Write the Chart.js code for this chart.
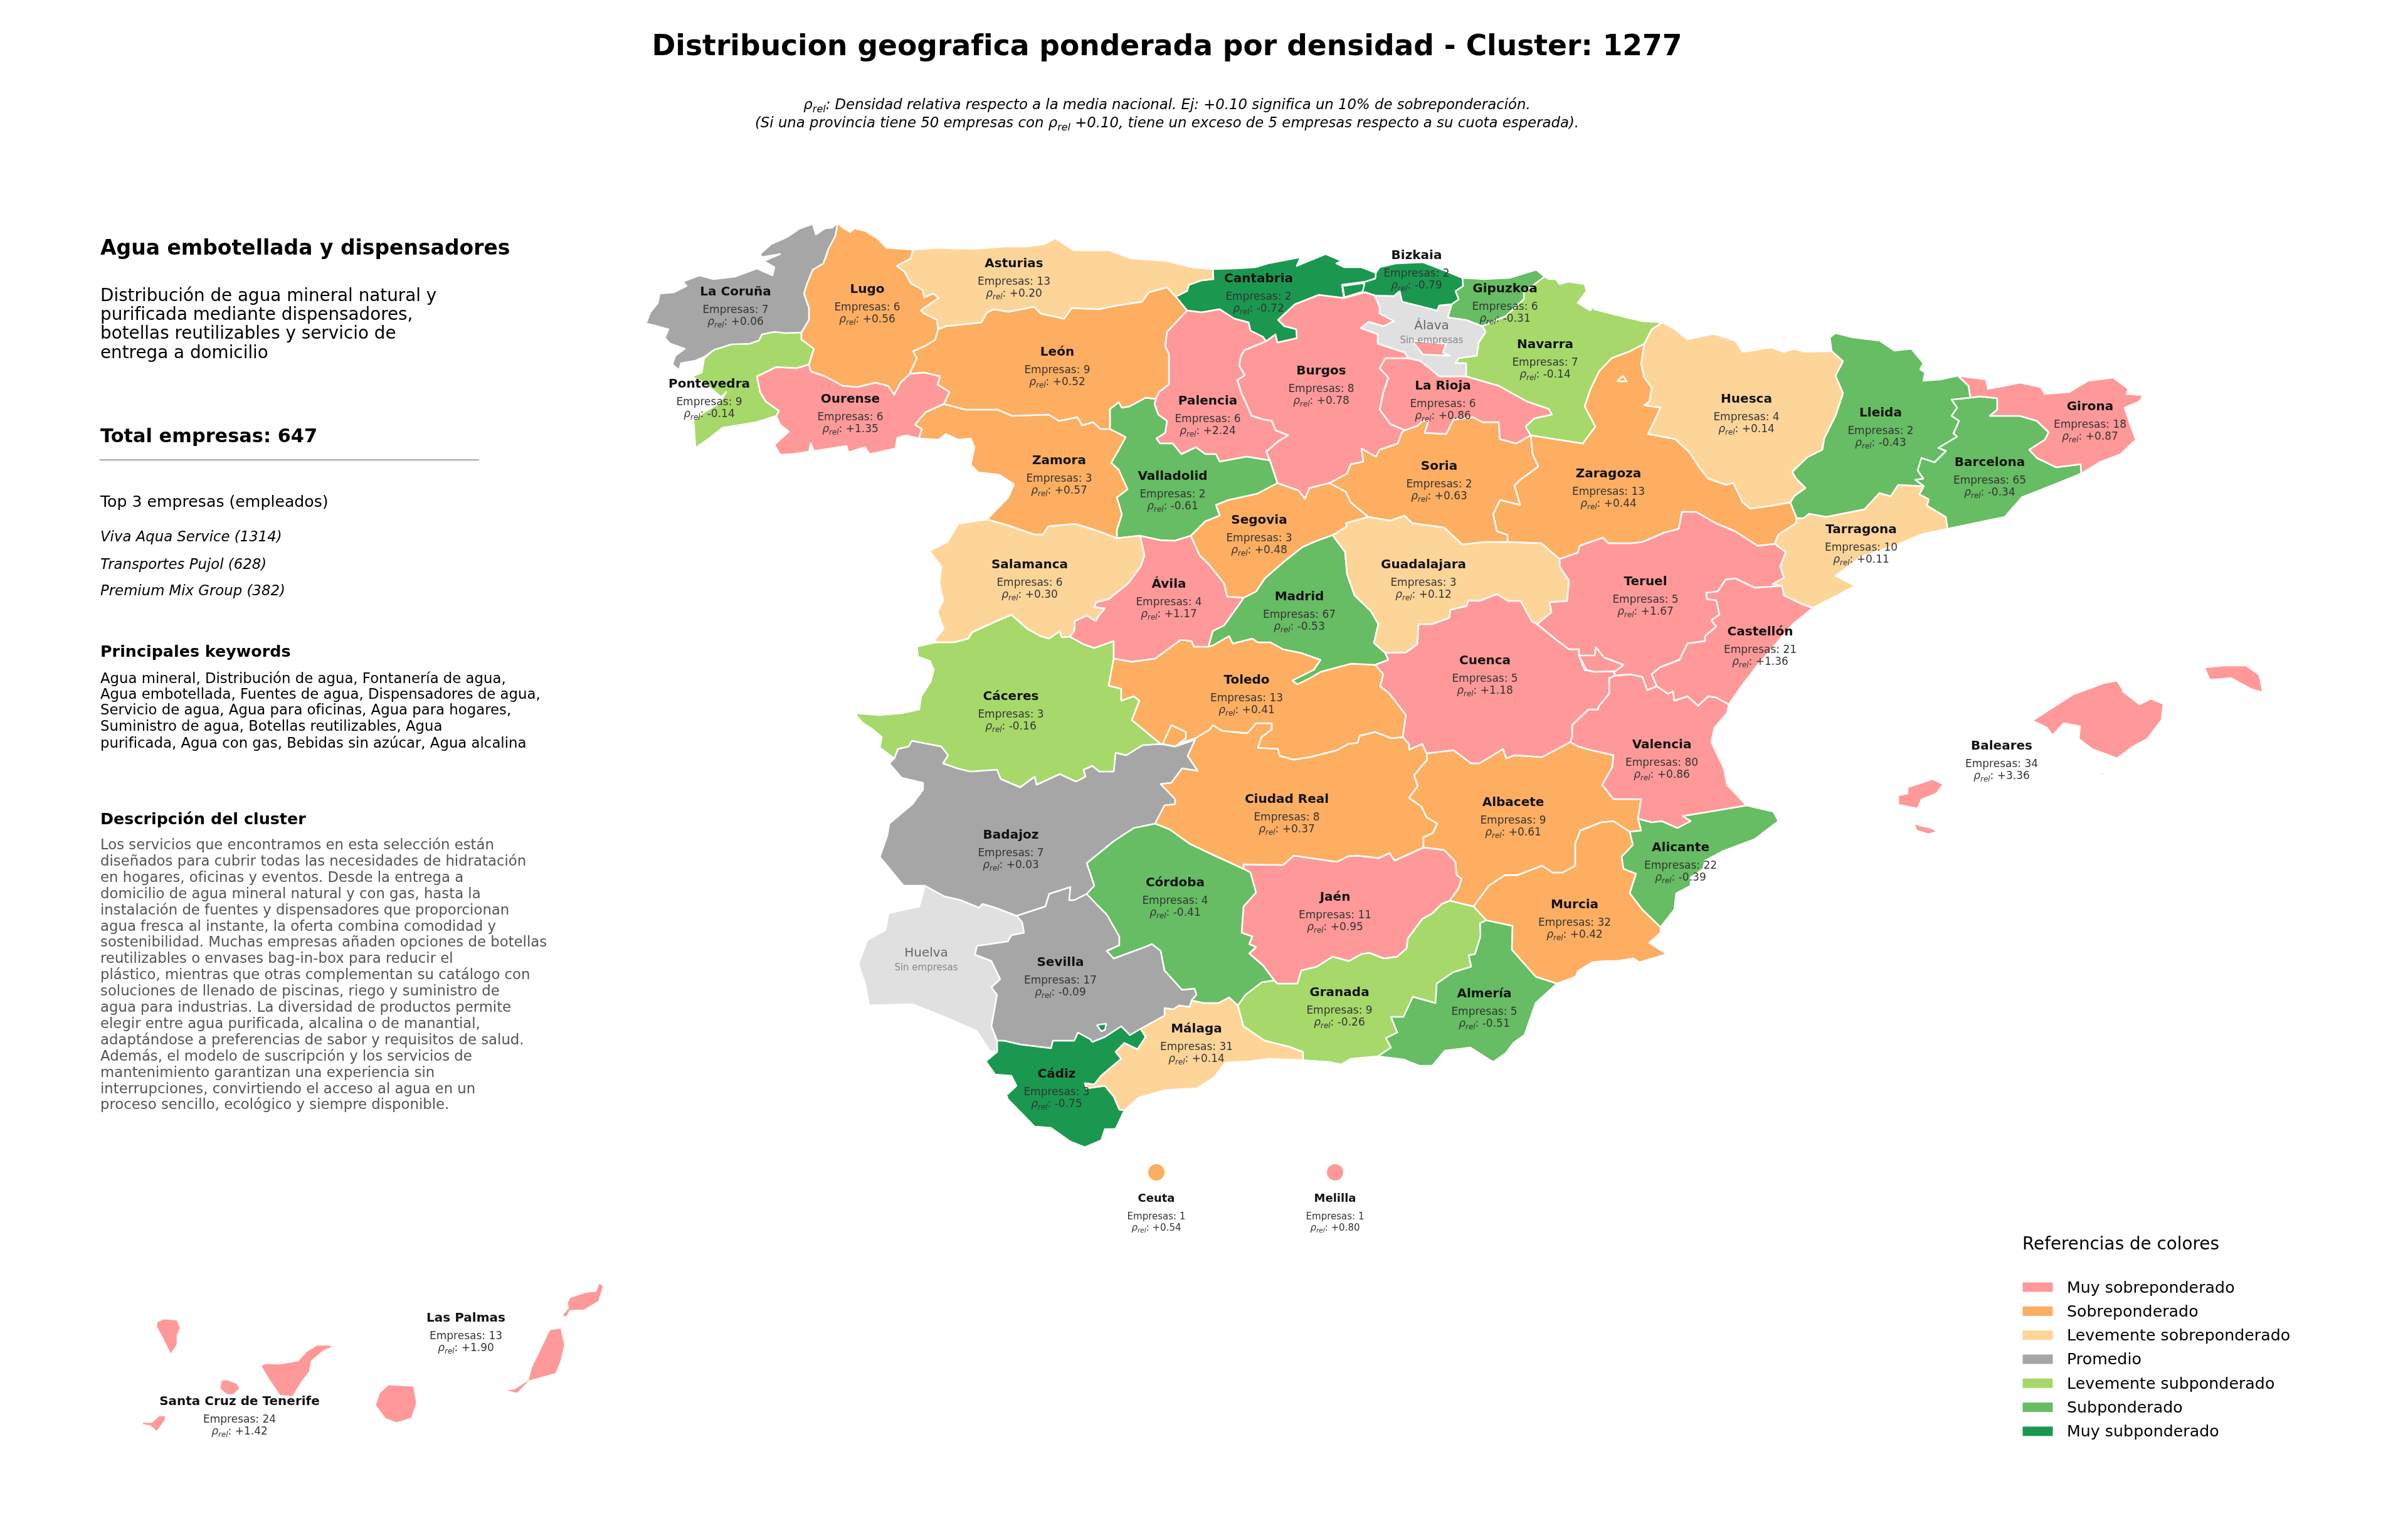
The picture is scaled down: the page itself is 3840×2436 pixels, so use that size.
<!DOCTYPE html>
<html lang="es">
<head>
<meta charset="utf-8">
<title>Distribucion geografica - Cluster 1277</title>
<script src="https://cdn.jsdelivr.net/npm/chart.js@4/dist/chart.umd.min.js"></script>
<style>
  html, body { margin: 0; padding: 0; background: #fff; }
  canvas { display: block; }
</style>
</head>
<body>
<canvas id="map" width="3840" height="2436"></canvas>
<script>
/* Province table */
const provinces = ["La Coruña","Lugo","Asturias","Pontevedra","Ourense","León","Zamora","Salamanca","Valladolid","Palencia","Cantabria","Burgos","Bizkaia","Gipuzkoa","Álava","Navarra","La Rioja","Soria","Zaragoza","Segovia","Guadalajara","Huesca","Lleida","Girona","Barcelona","Tarragona","Castellón","Baleares","Teruel","Cuenca","Valencia","Albacete","Alicante","Murcia","Ávila","Madrid","Toledo","Cáceres","Ciudad Real","Badajoz","Córdoba","Jaén","Sevilla","Huelva","Granada","Málaga","Cádiz","Almería","Las Palmas","Santa Cruz de Tenerife"];
const empresas = [7,6,13,9,6,9,3,6,2,6,2,8,2,6,null,7,6,2,13,3,3,4,2,18,65,10,21,34,5,5,80,9,22,32,4,67,13,3,8,7,4,11,17,null,9,31,3,5,13,24];
const rhoRel = [0.06,0.56,0.20,-0.14,1.35,0.52,0.57,0.30,-0.61,2.24,-0.72,0.78,-0.79,-0.31,null,-0.14,0.86,0.63,0.44,0.48,0.12,0.14,-0.43,0.87,-0.34,0.11,1.36,3.36,1.67,1.18,0.86,0.61,-0.39,0.42,1.17,-0.53,0.41,-0.16,0.37,0.03,-0.41,0.95,-0.09,null,-0.26,0.14,-0.75,-0.51,1.90,1.42];
// index into bandLabels, 7 = sin empresas
const provinceBand = [3,1,2,4,0,1,1,2,5,0,6,0,6,5,7,4,0,1,1,1,2,2,5,0,5,2,0,0,0,0,0,1,5,1,0,5,1,4,1,3,5,0,3,7,4,2,6,5,0,0];
const labelX = [1173,1383,1617,1131,1356,1686,1689,1642,1870,1926,2007,2107,2259,2400,2283,2464,2301,2295,2565,2008,2270,2785,2999,3333,3173,2968,2807,3192,2624,2368,2650,2413,2680,2511,1864,2072,1988,1612,2052,1612,1874,2129,1691,1477,2136,1908,1685,2367,743,382];
const labelY = [464,460,419,611,635,560,733,899,758,638,443,590,406,459,518,548,614,742,754,828,899,635,657,647,736,843,1006,1188,926,1052,1186,1278,1350,1441,930,950,1083,1109,1273,1330,1406,1429,1533,1518,1581,1639,1711,1583,2100,2233];

const cityNames = ["Ceuta","Melilla"];
const cityEmpresas = [1,1];
const cityRho = [0.54,0.80];
const cityBand = [1,0];
const cityX = [1844,2129];
const cityY = [1869,1869];

const bandLabels = ["Muy sobreponderado","Sobreponderado","Levemente sobreponderado","Promedio","Levemente subponderado","Subponderado","Muy subponderado"];
const bandColors = ["#ff9999","#fdae61","#fed599","#a6a6a6","#a6d96a","#66bd63","#1a9850","#e0e0e0"];

/* Shared borders, traced as x,y pairs in picture units */
const coruna_lugo = [1336,355,1332,376,1321,397,1313,420,1296,430,1287,452,1282,468,1290,491,1290,510,1278,530];
const coruna_pont = [1278,530,1253,531,1235,529,1215,533,1210,543,1195,548,1166,549,1138,558];
const coruna_coast = [1138,558,1123,569,1109,575,1086,579,1083,590,1072,581,1077,567,1092,556,1069,548,1060,539,1066,525,1040,518,1030,516,1037,498,1049,483,1052,468,1075,466,1095,456,1089,449,1115,439,1138,445,1172,441,1207,428,1232,439,1235,426,1218,416,1244,405,1215,410,1212,405,1230,389,1255,378,1276,364,1296,357,1301,374,1316,364,1327,363,1336,355];
const pont_coast = [1138,558,1123,571,1119,594,1102,601,1119,608,1138,623,1150,633,1158,625,1146,644,1123,657,1106,669,1109,714,1132,698,1152,682,1207,673,1238,663];
const pont_ourense = [1238,663,1242,655,1221,640,1212,625,1207,600,1238,585,1270,587,1290,581];
const pont_lugo = [1290,581,1298,556,1278,541,1278,530];
const lugo_ourense = [1290,581,1293,592,1316,600,1344,615,1367,617,1396,610,1416,615,1426,629,1436,610,1451,596];
const lugo_coast = [1336,355,1344,363,1356,370,1362,364,1379,368,1399,380,1414,395,1456,398];
const lugo_ast = [1456,398,1452,412,1430,424,1442,433,1453,452,1471,462,1474,474,1488,468,1497,475,1482,485,1468,495,1474,500,1494,510,1496,525];
const lugo_leon = [1496,525,1491,542,1474,552,1456,560,1462,571,1453,590,1451,596];
const ast_coast = [1456,398,1494,395,1551,397,1603,393,1637,393,1666,389,1683,380,1712,399,1769,399,1804,412,1861,416,1900,426,1934,429];
const ast_cant = [1934,429,1935,445,1916,447,1896,454,1893,464,1875,473];
const ast_leon = [1496,525,1508,520,1565,514,1574,498,1585,493,1608,497,1649,489,1660,500,1697,508,1709,491,1752,493,1781,487,1821,481,1832,466,1861,458,1875,473];
const cant_coast = [1934,429,1971,428,2002,426,2022,420,2074,410,2068,424,2077,420,2114,405,2140,416,2131,420,2143,426,2171,426,2194,435];
const cant_biz = [2194,435,2193,444,2177,449,2140,454,2143,475];
const cant_burgos = [2143,475,2103,470,2065,485,2038,510,2048,520,2067,525,2068,539,2037,546,2034,533,2019,544];
const cant_pal = [2019,544,2014,537,1994,527,1991,514,1968,508,1945,493,1916,498,1893,495];
const cant_leon = [1893,495,1875,473];
const leon_pal = [1893,495,1861,529,1858,552,1864,564,1864,613,1848,625,1843,636];
const leon_vall = [1843,636,1827,634,1801,648,1789,650,1784,641,1778,646,1770,652,1770,684];
const leon_zam = [1505,644,1540,653,1591,653,1614,663,1672,661,1689,671,1718,665,1726,678,1743,673,1755,684,1770,684];
const leon_our = [1451,596,1474,594,1499,600,1495,613,1514,625,1505,644];
const ourense_south = [1238,663,1244,677,1258,688,1235,709,1244,725,1264,724,1290,720,1293,707,1298,719,1350,711,1353,721,1379,713,1387,724,1428,715,1431,698,1445,694,1465,699];
const our_zam = [1465,699,1470,684,1459,677,1476,657,1505,644];
const zam_west = [1465,699,1497,701,1508,692,1528,701,1548,699,1554,713,1548,741,1560,753,1594,757,1617,772,1608,793,1574,828];
const zam_sal = [1574,828,1606,837,1649,852,1663,852,1672,839,1715,835,1740,843,1758,849,1781,858];
const zam_vall = [1770,684,1786,692,1795,697,1784,717,1772,738,1784,749,1798,780,1781,793,1789,820,1781,845,1781,858];
const vall_pal = [1843,636,1841,644,1847,661,1861,671,1858,690,1844,699,1850,707,1870,707,1884,724,1907,713,1922,724,1939,724,1945,736,1988,728,2025,734];
const vall_burgos = [2025,734,2037,770];
const vall_seg = [2037,770,2005,787,1959,797,1939,805,1945,822,1922,831,1899,854];
const vall_avila = [1818,854,1850,861,1873,862,1899,854];
const vall_sal = [1781,858,1818,854];
const pal_burgos = [2019,544,1985,558,1979,567,1976,583,1985,598,1973,606,1979,625,1996,663,2016,669,2028,671,2034,686,2054,694,2039,703,2019,720,2025,734];
const bur_biz = [2143,475,2177,466,2192,471];
const bur_alava = [2192,471,2200,489,2200,500,2223,512,2206,520,2183,513,2170,523,2197,533,2197,548,2240,562,2246,571];
const bur_rioja = [2246,571,2209,571,2200,587,2214,602,2206,625,2200,653,2217,676,2240,686];
const bur_soria = [2240,686,2235,690,2229,707,2200,717,2194,728,2171,715,2174,736,2154,740,2148,755,2120,770];
const bur_seg = [2120,770,2088,778,2081,795,2071,782,2037,770];
const biz_coast = [2194,435,2200,426,2226,420,2269,418,2303,431,2332,443];
const biz_gip = [2332,443,2333,456,2321,464,2326,477,2315,485];
const biz_alava = [2192,471,2223,472,2232,464,2236,481,2292,495,2295,487,2315,485];
const gip_coast = [2332,443,2367,445,2407,443,2450,430,2463,441];
const gip_nav = [2463,441,2430,466,2430,477,2415,491,2401,504,2364,520];
const gip_alava = [2315,485,2309,506,2338,510,2364,520];
const alava_nav = [2364,520,2369,529,2358,546,2355,567,2326,571,2321,579,2338,579,2338,600];
const alava_rioja = [2338,600,2295,600,2280,587,2264,575,2246,571];
const nav_coast = [2463,441,2470,445,2481,445,2487,453,2501,449,2527,453,2530,464,2516,483,2536,495,2547,481,2542,493,2585,504,2619,512,2651,514];
const nav_hsc = [2651,514,2634,525,2622,548];
const nav_zar = [2622,548,2599,560,2570,571,2550,592,2536,621,2527,648,2544,680,2524,707,2441,694];
const nav_rioja = [2338,600,2390,615,2435,640,2470,652,2475,661,2447,667,2433,680,2441,694];
const rioja_soria = [2240,686,2260,679,2269,671,2278,671,2272,690,2306,692,2318,669,2349,665,2364,673,2390,673,2392,700,2418,707,2441,694];
const soria_zar = [2441,694,2444,724,2453,744,2424,765,2415,774,2424,805,2392,797,2381,820,2387,847,2404,853,2404,864];
const soria_guad = [2182,824,2217,830,2240,822,2252,834,2303,841,2332,868,2367,864,2404,864];
const soria_seg = [2120,770,2146,784,2154,801,2182,824];
const zar_guad = [2404,864,2458,866,2487,891];
const zar_ter = [2487,891,2516,881,2519,870,2556,857,2565,866,2602,866,2619,864,2654,849,2677,843,2682,816,2705,816,2736,834,2767,847,2803,870,2830,867];
const zar_tar = [2830,867,2836,852,2864,834,2865,826];
const zar_lle = [2855,801,2865,826];
const zar_hsc = [2622,548,2617,580,2622,602,2634,618,2630,640,2622,646,2648,650,2628,692,2671,700,2694,721,2711,747,2724,763,2752,773,2764,770,2779,801,2791,811,2827,806,2855,801];
const hsc_top = [2651,514,2671,525,2691,541,2728,533,2736,533,2767,543,2779,561,2824,554,2845,561,2861,556,2879,561,2909,560,2921,560];
const hsc_lle = [2921,560,2939,576,2927,599,2939,627,2927,663,2909,699,2906,717,2882,729,2858,752,2864,763,2879,778,2861,791,2855,801];
const lle_top = [2921,560,2918,538,2927,531,2955,538,2997,543,3021,559,3048,556,3067,579,3062,589,3070,594,3067,607,3094,605,3122,599];
const lle_gir = [3122,599,3139,615,3142,634];
const lle_bar = [3142,634,3112,637,3121,650,3112,663,3124,671,3115,691,3121,696,3091,714,3103,719,3085,737,3064,730,3058,750,3067,763,3054,765,3068,775];
const lle_tar = [3068,775,3027,773,3015,791,2997,786,2973,812,2912,824,2885,819,2876,826,2865,826];
const gir_coast = [3122,599,3167,605,3170,620,3197,615,3221,610,3254,617,3261,628,3300,625,3330,607,3370,602,3394,620,3391,628,3418,630,3412,640,3388,650,3397,676,3406,701,3382,724,3348,737,3319,755];
const gir_bar = [3142,634,3158,632,3185,635,3185,653,3173,663,3221,663,3248,671,3267,689,3261,701,3236,717,3248,730,3279,745,3318,740,3319,755];
const bar_coast = [3319,755,3282,770,3224,793,3197,824,3106,843];
const bar_tar = [3068,775,3061,788,3076,796,3073,806,3103,824,3106,843];
const tar_coast = [3106,843,3064,852,3021,870,2967,888,2927,918,2958,934,2930,949,2891,969];
const tar_cas = [2891,969,2876,964,2845,949,2842,934];
const tar_ter = [2830,867,2848,880,2839,903,2845,921,2827,931,2842,934];
const ter_cas = [2842,934,2798,937,2767,922,2752,924,2739,943,2721,945,2722,955,2737,957,2742,980,2729,989,2737,999,2719,1014,2719,1022,2691,1026,2678,1052,2647,1064,2634,1075,2642,1094];
const ter_val = [2642,1094,2627,1100,2619,1079,2599,1075,2576,1077];
const ter_cue = [2451,995,2482,1020,2502,1035,2518,1035,2518,1045,2527,1068,2543,1071,2573,1070,2576,1077];
const ter_guad = [2451,995,2474,976,2471,960,2499,958,2502,926,2487,903,2487,891];
const cas_coast = [2891,969,2859,995,2803,1060,2777,1094,2757,1123];
const cas_val = [2642,1094,2660,1106,2668,1102,2670,1117,2691,1110,2708,1125,2724,1110,2737,1112,2757,1123];
const val_coast = [2757,1123,2754,1137,2734,1160,2729,1183,2749,1225,2754,1251,2785,1284];
const val_ali = [2612,1305,2634,1311,2650,1309,2675,1320,2696,1309,2683,1301,2726,1294,2785,1284];
const alb_val = [2612,1305,2617,1274,2573,1274,2555,1251,2571,1223,2573,1204,2538,1196,2517,1190,2504,1183];
const cue_val = [2576,1077,2566,1081,2566,1106,2550,1125,2548,1131,2533,1131,2507,1156,2507,1175,2504,1183];
const cue_alb = [2504,1183,2459,1207,2415,1204,2402,1209,2397,1194,2359,1217,2346,1217,2318,1196,2275,1201];
const cue_cr = [2275,1201,2268,1186,2247,1195,2247,1186,2237,1175];
const cue_tol = [2237,1175,2242,1140,2216,1106,2201,1094,2206,1075,2193,1060];
const mad_cue = [2193,1060,2214,1052,2209,1041];
const guad_cue = [2209,1041,2242,1040,2260,1027,2262,995,2283,995,2311,985,2313,972,2339,966,2341,957,2359,958,2387,947,2405,958,2425,958,2443,991,2451,995];
const guad_mad = [2125,853,2145,880,2148,915,2160,949,2186,974,2198,995,2191,1025,2209,1041];
const seg_guad = [2182,824,2146,834,2148,839,2125,853];
const seg_mad = [2125,853,2100,862,2077,872,2048,895,2017,922,2003,943,1983,953];
const seg_avila = [1899,854,1913,885,1929,901,1952,930,1957,951,1983,953];
const mad_tol = [1927,1031,1934,1029,1960,1014,1966,1026,1997,1018,2006,1024,2026,1024,2046,1035,2075,1041,2106,1052,2095,1068,2061,1085,2069,1091,2089,1081,2106,1071,2155,1058,2193,1060];
const avila_mad = [1927,1031,1934,1006,1952,997,1980,958,1983,953];
const avila_tol = [1776,1050,1805,1055,1842,1050,1883,1020,1900,1022,1904,1031,1927,1031];
const avila_cac = [1776,1050,1776,1022,1745,1033,1728,1027,1706,1015];
const avila_sal = [1818,854,1825,885,1819,903,1799,930,1768,955,1748,960,1745,968,1762,970,1753,980,1747,990,1733,981,1714,990,1713,1006,1706,1015];
const sal_cac = [1706,1015,1693,1016,1690,1006,1673,1018,1659,1014,1639,1003,1613,980,1587,991,1550,1008,1544,1018,1521,1024,1492,1024];
const sal_west = [1574,828,1528,835,1511,864,1482,878,1501,903,1498,930,1504,957,1495,976,1505,1003,1492,1018,1492,1024];
const cac_west = [1492,1024,1462,1031,1464,1047,1483,1054,1489,1068,1484,1087,1469,1110,1466,1131,1438,1137,1403,1140,1363,1137,1375,1152,1392,1163,1406,1175,1403,1192,1426,1209];
const cac_bad = [1426,1209,1432,1194,1449,1190,1454,1181,1501,1190,1512,1204,1504,1217,1527,1225,1547,1230,1590,1227,1596,1242,1627,1255,1650,1238,1653,1251,1690,1234,1716,1246,1731,1238,1728,1227,1742,1221,1753,1230,1776,1230,1779,1200,1796,1204,1822,1188,1851,1186];
const cac_tol = [1851,1186,1805,1148,1817,1117,1808,1110,1788,1117,1788,1098,1768,1093,1776,1050];
const tol_bad = [1851,1186,1874,1190];
const tol_cr = [1874,1190,1888,1183,1906,1177,1929,1163,1934,1156,1949,1165,1989,1169,2003,1153,2028,1153,2028,1163,2012,1175,2006,1192,2038,1194,2041,1205,2063,1211,2089,1207,2132,1196,2150,1186,2165,1184,2168,1173,2193,1167,2219,1177,2237,1175];
const cr_bad = [1874,1190,1906,1179,1894,1205,1910,1229,1885,1225,1868,1248,1851,1250,1874,1274,1874,1282,1857,1284,1842,1313];
const cr_cor = [1842,1313,1865,1322,1897,1345,1937,1364,1983,1385];
const cr_jaen = [1983,1385,1983,1378,2046,1379,2063,1364,2132,1374,2150,1365,2165,1364,2198,1368,2216,1360,2224,1372,2270,1351];
const cr_alb = [2275,1201,2276,1211,2255,1236,2261,1253,2247,1272,2267,1286,2275,1303,2292,1313,2285,1328,2270,1335,2270,1351];
const alb_jaen = [2270,1351,2303,1355,2321,1374,2323,1395,2331,1401,2326,1416,2312,1436];
const alb_gra = [2312,1436,2350,1445];
const alb_mur = [2350,1445,2374,1412,2400,1395,2420,1395,2459,1380,2476,1391,2492,1391,2512,1380,2512,1345,2520,1324,2553,1311,2573,1309,2599,1326];
const alb_ali = [2599,1326,2617,1324,2612,1305];
const ali_coast = [2785,1284,2828,1294,2836,1309,2798,1338,2747,1357,2719,1372,2716,1385,2696,1399,2696,1412,2673,1424,2670,1450,2648,1478];
const ali_mur = [2599,1326,2604,1347,2586,1366,2589,1385,2609,1393,2599,1424,2619,1450,2648,1478];
const mur_coast = [2648,1478,2648,1487,2630,1503,2658,1521,2615,1534,2605,1528,2579,1532,2559,1532,2539,1534,2516,1548,2513,1557,2483,1568];
const mur_alm = [2483,1568,2449,1557,2411,1514,2412,1476,2370,1467];
const mur_gra = [2370,1467,2350,1445];
const gra_alm = [2370,1467,2360,1472,2361,1492,2352,1521,2342,1523,2346,1541,2317,1550,2291,1568,2289,1599,2253,1589,2238,1621,2218,1621,2228,1646,2210,1655,2218,1670,2197,1684];
const alm_coast = [2197,1684,2238,1689,2263,1699,2284,1699,2304,1675,2345,1670,2381,1693,2401,1679,2414,1662,2431,1650,2449,1599,2483,1568];
const jaen_gra = [2312,1436,2299,1441,2284,1456,2268,1465,2245,1496,2243,1512,2228,1525,2207,1528,2184,1519,2171,1521,2151,1532,2125,1525,2100,1541,2075,1547,2069,1568,2037,1568,2032,1563];
const jaen_cor = [1983,1385,1994,1391,2003,1423,1983,1445,1980,1487,1997,1493,1992,1505,2003,1510,1992,1520,2014,1539,2032,1563];
const gra_coast = [2197,1684,2154,1688,2138,1697,2120,1693,2103,1692,2078,1690];
const gra_mal = [2078,1690,2078,1677,2057,1669,2017,1659,1983,1636,1974,1603];
const gra_cor = [1974,1603,1986,1586,2012,1566,2032,1563];
const cor_mal = [1974,1603,1960,1590,1943,1599,1920,1599,1900,1595];
const cor_sev = [1900,1595,1908,1586,1905,1576,1885,1578,1857,1547,1851,1516,1837,1505,1825,1510,1776,1528,1765,1516,1785,1507,1785,1493,1765,1458,1750,1443,1733,1425];
const cor_bad = [1842,1313,1808,1320,1776,1341,1733,1376,1745,1412,1733,1425];
const bad_sev = [1733,1425,1713,1435,1705,1435,1707,1414,1673,1425,1667,1445,1621,1460];
const bad_hlv = [1621,1460,1587,1447,1567,1441,1561,1447,1532,1435,1506,1429,1475,1412];
const bad_west = [1426,1209,1418,1217,1438,1240,1472,1248,1472,1259,1455,1282,1418,1313,1415,1332,1403,1366,1441,1412,1475,1412];
const hlv_sev = [1621,1460,1630,1470,1633,1487,1613,1491,1607,1501,1558,1508,1555,1522,1581,1532,1595,1561,1581,1574,1590,1586,1581,1636,1590,1659];
const hlv_cad = [1590,1659,1590,1677];
const hlv_coast = [1475,1412,1466,1445,1417,1456,1412,1483,1383,1499,1369,1537,1380,1570,1386,1603,1455,1601,1506,1621,1558,1644,1578,1675,1590,1677];
const sev_cad = [1590,1659,1601,1659,1627,1665,1676,1671,1679,1659,1713,1659,1719,1646,1739,1657,1742,1661,1762,1653,1788,1636,1802,1650,1819,1640];
const sev_mal = [1819,1640,1857,1619,1857,1607,1871,1609,1880,1603,1897,1605,1900,1595];
const cad_mal = [1819,1640,1827,1653,1814,1673,1793,1663,1779,1677,1788,1688,1756,1715,1745,1729,1730,1727,1733,1735,1762,1731,1776,1748,1785,1769,1793,1770];
const mal_coast = [2078,1690,2023,1688,1994,1692,1954,1694,1937,1717,1908,1735,1857,1738,1816,1750,1799,1765,1793,1770];
const cad_coast = [1590,1677,1572,1692,1587,1713,1613,1715,1621,1731,1607,1744,1601,1733,1607,1752,1650,1796,1676,1798,1707,1820,1730,1829,1756,1818,1762,1800,1779,1800,1793,1770];

// Islands and small enclaves are closed shapes of their own
const mallorca = [3241,1149,3306,1107,3355,1089,3376,1085,3385,1099,3397,1094,3385,1102,3412,1123,3430,1114,3450,1122,3447,1148,3424,1178,3403,1189,3376,1209,3336,1194,3315,1178,3317,1158,3291,1153,3273,1172,3264,1160];
const menorca = [3515,1064,3548,1061,3582,1061,3603,1076,3609,1104,3591,1099,3558,1081,3524,1084];
const ibiza = [3042,1255,3067,1247,3082,1242,3099,1250,3088,1265,3064,1275,3058,1289,3027,1283,3027,1268,3042,1265];
const formentera = [3052,1312,3062,1316,3080,1320,3090,1326,3075,1330,3056,1324];
const cabrera = [3349,1232,3356,1232,3353,1237];
const laPalma = [250,2107,261,2102,283,2104,288,2117,283,2129,283,2144,272,2160,261,2137,249,2115];
const tenerife = [415,2177,424,2173,446,2174,475,2169,489,2154,505,2144,527,2144,532,2147,516,2154,497,2170,494,2187,481,2204,467,2227,446,2225,429,2200];
const gomera = [353,2200,362,2199,378,2205,383,2214,372,2224,362,2224,350,2214];
const hierro = [253,2257,264,2256,264,2264,250,2283,240,2274,226,2271,228,2267,242,2267];
const granCanaria = [619,2207,652,2209,660,2209,665,2237,657,2261,633,2269,614,2262,598,2240,605,2220];
const fuerteventura = [877,2119,895,2117,901,2144,895,2170,887,2190,844,2202,825,2222,801,2216,820,2214,842,2200,847,2180,855,2164,874,2124];
const lanzarote = [909,2068,933,2060,950,2058,955,2045,963,2050,955,2075,931,2089,909,2090,904,2100,895,2098,906,2085,904,2077];
const graciosa = [950,2037,953,2042,947,2043];
const ceutaShape = [1831,1793,1838,1795,1840,1797,1833,1797];
const melillaShape = [2139,1811,2141,1813,2139,1817,2137,1813];
const trevino = [2252,543,2306,548,2301,562,2312,567,2269,565];
const villaverde = [2141,456,2169,452,2176,452,2173,465,2144,474];
const ademuz = [2518,1045,2543,1045,2545,1032,2558,1048,2589,1060,2576,1070,2543,1071,2530,1068];
const petilla = [2579,608,2588,599,2594,608];
const toledoParcel = [1854,1186,1868,1156,1891,1167,1891,1177,1874,1190];
const cadizParcel = [1749,1634,1764,1632,1762,1642,1756,1644];

// Ring of every province on the mainland, as a loop of shared borders
const provinceRings = {
  "La Coruña": [coruna_lugo, coruna_pont, coruna_coast],
  "Lugo": [coruna_lugo, lugo_coast, lugo_ast, lugo_leon, lugo_ourense, pont_lugo],
  "Asturias": [lugo_ast, ast_coast, ast_cant, ast_leon],
  "Pontevedra": [coruna_pont, pont_coast, pont_ourense, pont_lugo],
  "Ourense": [pont_ourense, lugo_ourense, leon_our, our_zam, ourense_south],
  "León": [ast_leon, cant_leon, leon_pal, leon_vall, leon_zam, leon_our, lugo_leon],
  "Zamora": [our_zam, leon_zam, zam_vall, zam_sal, zam_west],
  "Salamanca": [zam_sal, vall_sal, avila_sal, sal_cac, sal_west],
  "Valladolid": [leon_vall, vall_pal, vall_burgos, vall_seg, vall_avila, vall_sal, zam_vall],
  "Palencia": [cant_pal, pal_burgos, vall_pal, leon_pal],
  "Cantabria": [ast_cant, cant_coast, cant_biz, cant_burgos, cant_pal, cant_leon],
  "Burgos": [cant_burgos, bur_biz, bur_alava, bur_rioja, bur_soria, bur_seg, vall_burgos, pal_burgos],
  "Bizkaia": [cant_biz, biz_coast, biz_gip, biz_alava, bur_biz],
  "Gipuzkoa": [biz_gip, gip_coast, gip_nav, gip_alava],
  "Álava": [biz_alava, gip_alava, alava_nav, alava_rioja, bur_alava],
  "Navarra": [gip_nav, nav_coast, nav_hsc, nav_zar, nav_rioja, alava_nav],
  "La Rioja": [alava_rioja, nav_rioja, rioja_soria, bur_rioja],
  "Soria": [bur_soria, rioja_soria, soria_zar, soria_guad, soria_seg],
  "Zaragoza": [nav_zar, zar_hsc, zar_lle, zar_tar, zar_ter, zar_guad, soria_zar],
  "Segovia": [vall_seg, bur_seg, soria_seg, seg_guad, seg_mad, seg_avila],
  "Guadalajara": [seg_guad, soria_guad, zar_guad, ter_guad, guad_cue, guad_mad],
  "Huesca": [nav_hsc, hsc_top, hsc_lle, zar_hsc],
  "Lleida": [hsc_lle, lle_top, lle_gir, lle_bar, lle_tar, zar_lle],
  "Girona": [lle_gir, gir_coast, gir_bar],
  "Barcelona": [lle_bar, gir_bar, bar_coast, bar_tar],
  "Tarragona": [lle_tar, bar_tar, tar_coast, tar_cas, tar_ter, zar_tar],
  "Castellón": [ter_cas, tar_cas, cas_coast, cas_val],
  "Teruel": [zar_ter, tar_ter, ter_cas, ter_val, ter_cue, ter_guad],
  "Cuenca": [guad_cue, ter_cue, cue_val, cue_alb, cue_cr, cue_tol, mad_cue],
  "Valencia": [ter_val, cas_val, val_coast, val_ali, alb_val, cue_val],
  "Albacete": [cue_alb, alb_val, alb_ali, alb_mur, alb_gra, alb_jaen, cr_alb],
  "Alicante": [val_ali, ali_coast, ali_mur, alb_ali],
  "Murcia": [alb_mur, ali_mur, mur_coast, mur_alm, mur_gra],
  "Ávila": [vall_avila, seg_avila, avila_mad, avila_tol, avila_cac, avila_sal],
  "Madrid": [guad_mad, mad_cue, mad_tol, avila_mad, seg_mad],
  "Toledo": [avila_tol, mad_tol, cue_tol, tol_cr, tol_bad, cac_tol],
  "Cáceres": [sal_cac, avila_cac, cac_tol, cac_bad, cac_west],
  "Ciudad Real": [tol_cr, cue_cr, cr_alb, cr_jaen, cr_cor, cr_bad],
  "Badajoz": [cac_bad, tol_bad, cr_bad, cor_bad, bad_sev, bad_hlv, bad_west],
  "Córdoba": [cr_cor, jaen_cor, gra_cor, cor_mal, cor_sev, cor_bad],
  "Jaén": [cr_jaen, alb_jaen, jaen_gra, jaen_cor],
  "Sevilla": [bad_sev, cor_sev, sev_mal, sev_cad, hlv_sev],
  "Huelva": [bad_hlv, hlv_sev, hlv_cad, hlv_coast],
  "Granada": [jaen_gra, alb_gra, mur_gra, gra_alm, gra_coast, gra_mal, gra_cor],
  "Málaga": [sev_mal, cor_mal, gra_mal, mal_coast, cad_mal],
  "Cádiz": [sev_cad, cad_mal, cad_coast, hlv_cad],
  "Almería": [gra_alm, mur_alm, alm_coast],
};
const islandParts = {
  "Baleares": [mallorca, menorca, ibiza, formentera, cabrera],
  "Las Palmas": [granCanaria, fuerteventura, lanzarote, graciosa],
  "Santa Cruz de Tenerife": [laPalma, tenerife, gomera, hierro],
};
const enclaveParts = [[trevino, 0], [villaverde, 6], [ademuz, 0], [petilla, 1], [toledoParcel, 1], [cadizParcel, 6], [ceutaShape, 1], [melillaShape, 0]];

/* Texts */
const chartTitle = "Distribucion geografica ponderada por densidad - Cluster: 1277";
const noteOne = ": Densidad relativa respecto a la media nacional. Ej: +0.10 significa un 10% de sobreponderación.";
const noteTwoA = "(Si una provincia tiene 50 empresas con ";
const noteTwoB = " +0.10, tiene un exceso de 5 empresas respecto a su cuota esperada).";
const clusterName = "Agua embotellada y dispensadores";
const clusterSummary = ["Distribución de agua mineral natural y","purificada mediante dispensadores,","botellas reutilizables y servicio de","entrega a domicilio"];
const totalLine = "Total empresas: 647";
const topHeading = "Top 3 empresas (empleados)";
const topCompanies = ["Viva Aqua Service (1314)","Transportes Pujol (628)","Premium Mix Group (382)"];
const keywordHeading = "Principales keywords";
const keywordLines = ["Agua mineral, Distribución de agua, Fontanería de agua,","Agua embotellada, Fuentes de agua, Dispensadores de agua,","Servicio de agua, Agua para oficinas, Agua para hogares,","Suministro de agua, Botellas reutilizables, Agua","purificada, Agua con gas, Bebidas sin azúcar, Agua alcalina"];
const descriptionHeading = "Descripción del cluster";
const descriptionLines = ["Los servicios que encontramos en esta selección están","diseñados para cubrir todas las necesidades de hidratación","en hogares, oficinas y eventos. Desde la entrega a","domicilio de agua mineral natural y con gas, hasta la","instalación de fuentes y dispensadores que proporcionan","agua fresca al instante, la oferta combina comodidad y","sostenibilidad. Muchas empresas añaden opciones de botellas","reutilizables o envases bag-in-box para reducir el","plástico, mientras que otras complementan su catálogo con","soluciones de llenado de piscinas, riego y suministro de","agua para industrias. La diversidad de productos permite","elegir entre agua purificada, alcalina o de manantial,","adaptándose a preferencias de sabor y requisitos de salud.","Además, el modelo de suscripción y los servicios de","mantenimiento garantizan una experiencia sin","interrupciones, convirtiendo el acceso al agua en un","proceso sencillo, ecológico y siempre disponible."];
const legendTitle = "Referencias de colores";

/* Helpers */
const FONT = '"DejaVu Sans", sans-serif';

function toPoints(flat) {
  const pts = [];
  for (let i = 0; i < flat.length; i += 2) pts.push({ x: flat[i], y: flat[i + 1] });
  return pts;
}

const gap = (a, b) => Math.hypot(a.x - b.x, a.y - b.y);

// joins shared borders into one closed ring, flipping each one as needed
function chainRing(segments) {
  const parts = segments.map(toPoints);
  const first = parts[0], next = parts[1];
  const nextEnds = [next[0], next[next.length - 1]];
  const tail = first[first.length - 1], head = first[0];
  const ring = Math.min(gap(tail, nextEnds[0]), gap(tail, nextEnds[1])) <= Math.min(gap(head, nextEnds[0]), gap(head, nextEnds[1]))
    ? first.slice() : first.slice().reverse();
  for (const part of parts.slice(1)) {
    const last = ring[ring.length - 1];
    const ordered = gap(last, part[0]) <= gap(last, part[part.length - 1]) ? part : part.slice().reverse();
    ring.push(...ordered);
  }
  ring.push(ring[0]);
  return ring;
}

function closedShape(flat) {
  const pts = toPoints(flat);
  pts.push(pts[0]);
  return pts;
}

function shapeDataset(label, data, band) {
  return {
    label, data, showLine: true, fill: "shape", tension: 0,
    backgroundColor: bandColors[band], borderColor: "#ffffff", borderWidth: 2.5,
    borderJoinStyle: "round", pointRadius: 0, pointHoverRadius: 0, spanGaps: true,
  };
}

const datasets = [];
enclaveParts.forEach(([flat, band], i) => datasets.push(shapeDataset("enclave " + i, closedShape(flat), band)));
// Ceuta and Melilla markers
cityNames.forEach((name, i) => datasets.push({
  label: name, data: [{ x: cityX[i], y: cityY[i] }], showLine: false,
  pointRadius: 13, pointBackgroundColor: bandColors[cityBand[i]], pointBorderWidth: 0,
}));
provinces.forEach((name, i) => {
  if (provinceRings[name]) datasets.push(shapeDataset(name, chainRing(provinceRings[name]), provinceBand[i]));
  (islandParts[name] || []).forEach((flat) => datasets.push(shapeDataset(name, closedShape(flat), provinceBand[i])));
});

function text(ctx, str, x, y, font, color, align) {
  ctx.font = font + " " + FONT;
  ctx.fillStyle = color;
  ctx.textAlign = align || "left";
  ctx.textBaseline = "alphabetic";
  ctx.fillText(str, x, y);
}

// italic rho with "rel" subscript, returns the drawn width
function rhoWidth(ctx, size) {
  ctx.font = "italic " + size + "px " + FONT;
  const w = ctx.measureText("ρ").width;
  ctx.font = "italic " + size * 0.7 + "px " + FONT;
  return w + ctx.measureText("rel").width;
}
function drawRho(ctx, x, y, size, color) {
  text(ctx, "ρ", x, y, "italic " + size + "px", color);
  const w = ctx.measureText("ρ").width;
  text(ctx, "rel", x + w, y + size * 0.22, "italic " + size * 0.7 + "px", color);
  return rhoWidth(ctx, size);
}
function rhoLine(ctx, value, cx, y, size, color) {
  const tail = ": " + (value >= 0 ? "+" : "") + value.toFixed(2);
  ctx.font = size + "px " + FONT;
  const tailW = ctx.measureText(tail).width;
  const start = cx - (rhoWidth(ctx, size) + tailW) / 2;
  const w = drawRho(ctx, start, y, size, color);
  text(ctx, tail, start + w, y, size + "px", color);
}

const mapLabels = {
  id: "mapLabels",
  afterDatasetsDraw(chart) {
    const { ctx, scales: { x: sx, y: sy } } = chart;
    ctx.save();
    provinces.forEach((name, i) => {
      const x = sx.getPixelForValue(labelX[i]), y = sy.getPixelForValue(labelY[i]);
      if (empresas[i] === null) {
        text(ctx, name, x, y + 7, "20px", "#666666", "center");
        text(ctx, "Sin empresas", x, y + 29, "15px", "#888888", "center");
        return;
      }
      text(ctx, name, x, y + 7, "bold 20px", "#111111", "center");
      text(ctx, "Empresas: " + empresas[i], x, y + 35, "17px", "#333333", "center");
      rhoLine(ctx, rhoRel[i], x, y + 54, 17, "#333333");
    });
    cityNames.forEach((name, i) => {
      const x = sx.getPixelForValue(cityX[i]), y = sy.getPixelForValue(1910);
      text(ctx, name, x, y + 6, "bold 18px", "#111111", "center");
      text(ctx, "Empresas: " + cityEmpresas[i], x, y + 34, "15px", "#333333", "center");
      rhoLine(ctx, cityRho[i], x, y + 52, 15, "#333333");
    });
    ctx.restore();
  },
};

const pageText = {
  id: "pageText",
  afterDraw(chart) {
    const { ctx } = chart;
    ctx.save();
    text(ctx, chartTitle, 1861, 88, "bold 45.6px", "#000000", "center");

    // two-line note under the title, rho drawn by hand
    const noteSize = 22.8, noteFont = "italic " + noteSize + "px";
    const rhoW = rhoWidth(ctx, noteSize);
    ctx.font = noteFont + " " + FONT;
    const oneW = rhoW + ctx.measureText(noteOne).width;
    let x = 1861 - oneW / 2;
    x += drawRho(ctx, x, 174, noteSize, "#000000");
    text(ctx, noteOne, x, 174, noteFont, "#000000");
    ctx.font = noteFont + " " + FONT;
    const aW = ctx.measureText(noteTwoA).width, bW = ctx.measureText(noteTwoB).width;
    x = 1861 - (aW + bW + rhoW) / 2;
    text(ctx, noteTwoA, x, 203, noteFont, "#000000");
    x += aW;
    x += drawRho(ctx, x, 203, noteSize, "#000000");
    text(ctx, noteTwoB, x, 203, noteFont, "#000000");

    // left column
    const left = 160;
    text(ctx, clusterName, left, 406, "bold 33px", "#000000");
    [479.5, 510, 540, 571].forEach((y, i) => text(ctx, clusterSummary[i], left, y, "27.8px", "#000000"));
    text(ctx, totalLine, left, 704.5, "bold 30.4px", "#000000");
    ctx.fillStyle = "#888888";
    ctx.fillRect(158.5, 732.5, 605.5, 1.5);
    text(ctx, topHeading, left, 808, "25.2px", "#000000");
    [863, 906.5, 948.5].forEach((y, i) => text(ctx, topCompanies[i], left, y, "italic 22.8px", "#000000"));
    text(ctx, keywordHeading, left, 1047, "bold 25.4px", "#000000");
    [1089, 1114, 1139, 1165, 1192].forEach((y, i) => text(ctx, keywordLines[i], left, y, "22.8px", "#000000"));
    text(ctx, descriptionHeading, left, 1314, "bold 25.4px", "#000000");
    descriptionLines.forEach((line, i) => text(ctx, line, left, 1354 + i * 25.9, "22.8px", "#555555"));

    // colour key
    text(ctx, legendTitle, 3225, 1992, "27.8px", "#000000");
    bandLabels.forEach((label, i) => {
      const y = 2052 + i * 38.3;
      ctx.fillStyle = bandColors[i];
      ctx.fillRect(3225.5, y - 7.5, 48, 15);
      text(ctx, label, 3296, y + 8.5, "25.3px", "#000000");
    });
    ctx.restore();
  },
};

new Chart(document.getElementById("map"), {
  type: "scatter",
  data: { datasets },
  plugins: [mapLabels, pageText],
  options: {
    responsive: false,
    devicePixelRatio: 1,
    animation: false,
    layout: { padding: 0, autoPadding: false },
    events: [],
    scales: {
      x: { type: "linear", min: 0, max: 3840, display: false },
      y: { type: "linear", min: 0, max: 2436, reverse: true, display: false },
    },
    plugins: { legend: { display: false }, tooltip: { enabled: false }, title: { display: false } },
  },
});
</script>
</body>
</html>
